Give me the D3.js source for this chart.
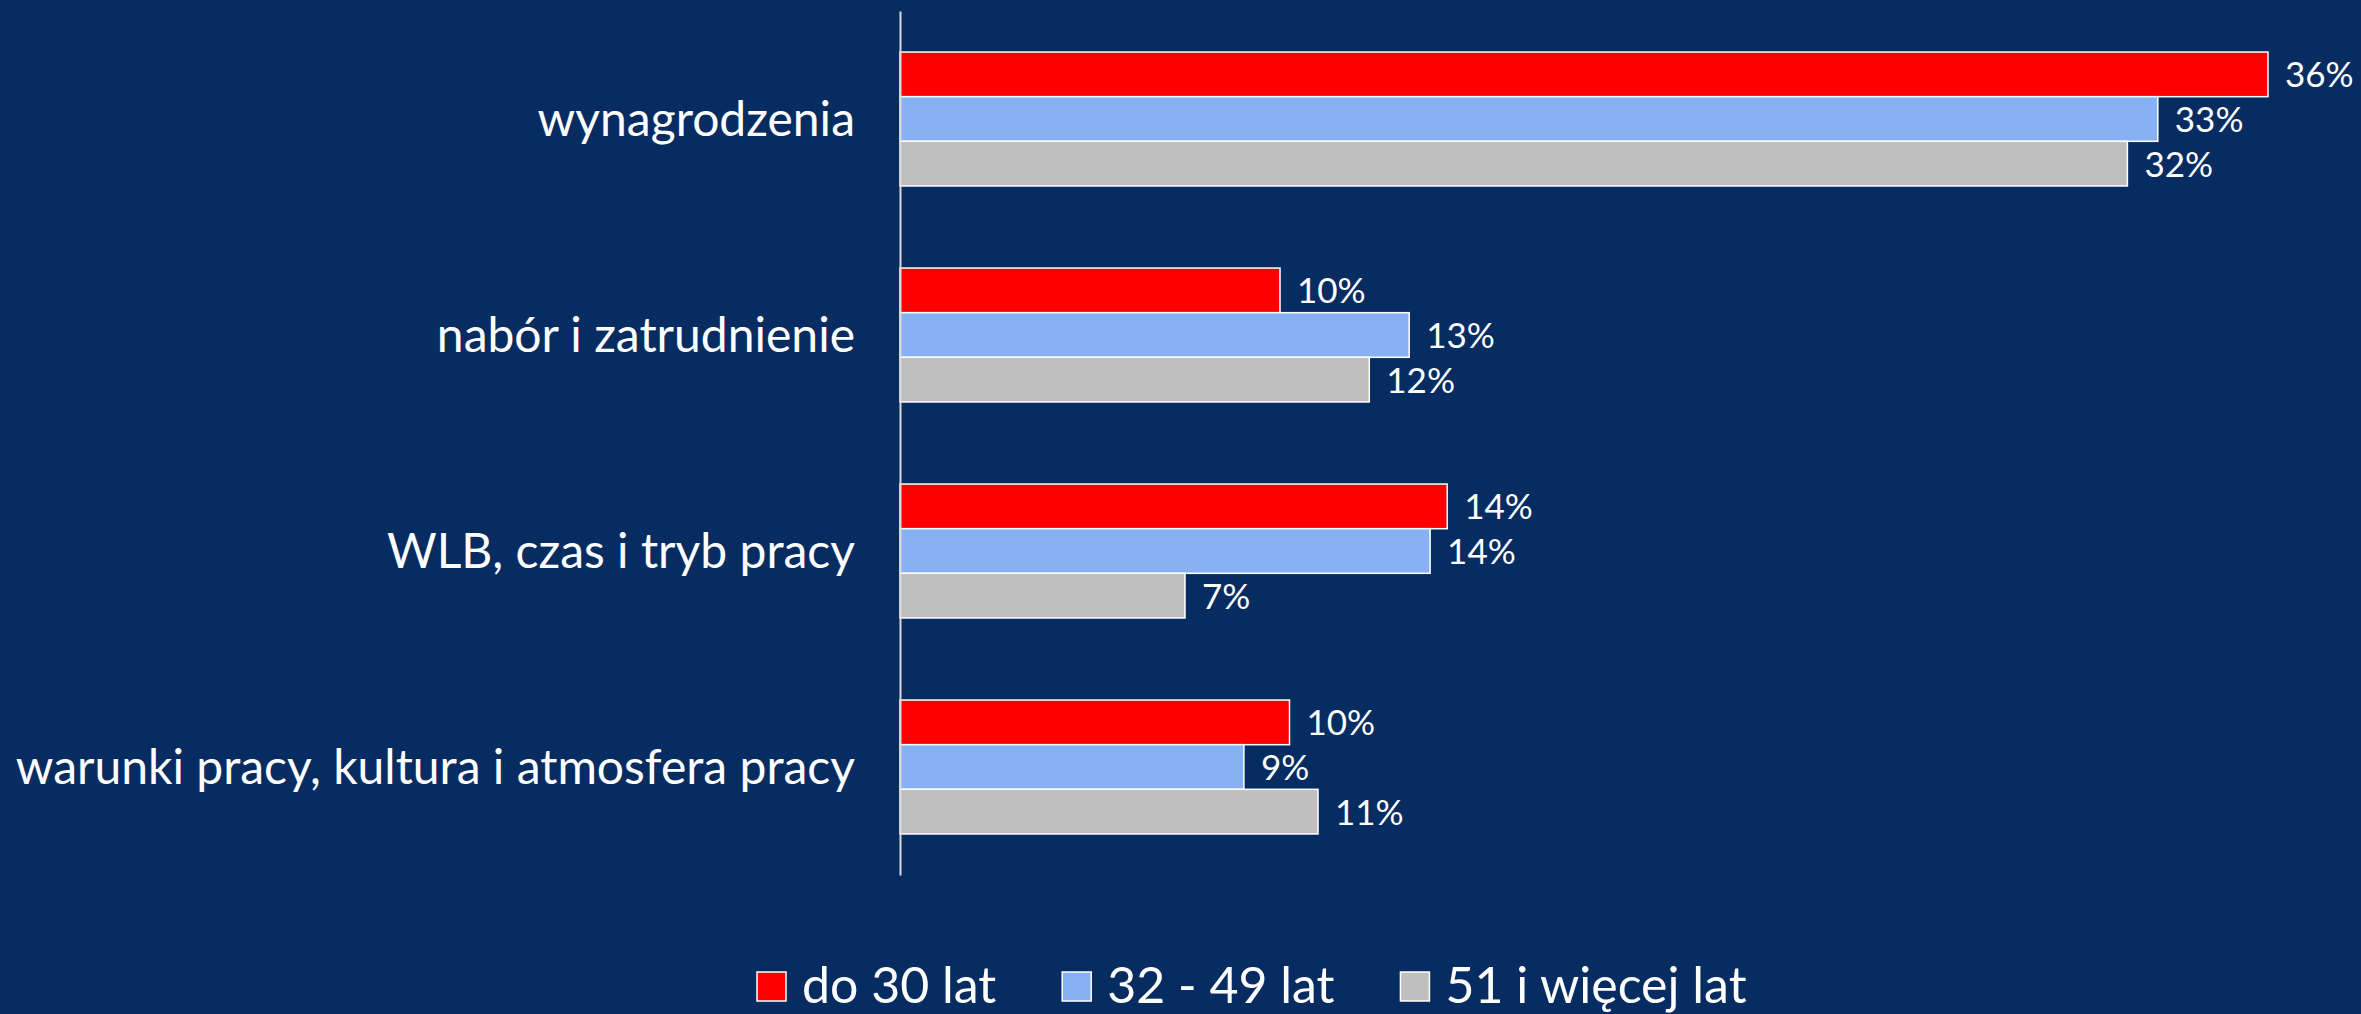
<!DOCTYPE html>
<html>
<head>
<meta charset="utf-8">
<script src="https://cdn.jsdelivr.net/npm/d3@7"></script>
<style>
  html, body { margin: 0; padding: 0; background: #072C62; }
  svg { display: block; }
  text { font-family: Lato, "Noto Sans", sans-serif; fill: #ffffff; }
</style>
</head>
<body>
<svg id="chart" width="2361" height="1014"></svg>
<script>
// ---- data ----
const categories = [
  "wynagrodzenia",
  "nabór i zatrudnienie",
  "WLB, czas i tryb pracy",
  "warunki pracy, kultura i atmosfera pracy"
];
const seriesNames = ["do 30 lat", "32 - 49 lat", "51 i więcej lat"];
const seriesColors = ["#FF0000", "#86B1F5", "#BFBFBF"];
const valuesDo30 = [36, 10, 14.4, 10.25];
const values32to49 = [33.1, 13.4, 13.95, 9.05];
const values51plus = [32.3, 12.35, 7.5, 11.0];
const labelsDo30 = ["36%", "10%", "14%", "10%"];
const labels32to49 = ["33%", "13%", "14%", "9%"];
const labels51plus = ["32%", "12%", "7%", "11%"];

const seriesValues = [valuesDo30, values32to49, values51plus];
const seriesLabels = [labelsDo30, labels32to49, labels51plus];

// ---- layout ----
const svg = d3.select("#chart");
svg.append("rect").attr("width", 2361).attr("height", 1014).attr("fill", "#072C62");

const x = d3.scaleLinear().domain([0, 38]).range([900, 2344]);
const y = d3.scaleBand().domain(categories).range([11, 875]).paddingInner(0.38).paddingOuter(0.19);
const yInner = d3.scaleBand().domain(d3.range(seriesNames.length)).range([0, y.bandwidth()]);

const rows = [];
categories.forEach((c, ci) => {
  seriesNames.forEach((s, si) => {
    rows.push({ cat: c, si: si, v: seriesValues[si][ci], label: seriesLabels[si][ci] });
  });
});

const g = svg.append("g");
g.selectAll("rect.bar").data(rows).join("rect")
  .attr("class", "bar")
  .attr("x", x(0))
  .attr("y", d => y(d.cat) + yInner(d.si))
  .attr("width", d => x(d.v) - x(0))
  .attr("height", yInner.bandwidth())
  .attr("fill", d => seriesColors[d.si])
  .attr("stroke", "#ffffff")
  .attr("stroke-width", 1.5);

g.selectAll("text.val").data(rows).join("text")
  .attr("class", "val")
  .attr("x", d => x(d.v) + 17)
  .attr("y", d => y(d.cat) + yInner(d.si) + yInner.bandwidth() / 2 + 13)
  .attr("font-size", 35)
  .text(d => d.label);

// axis line with category labels
const axis = d3.axisLeft(y).tickSize(0).tickPadding(45);
const ag = svg.append("g").attr("transform", `translate(${x(0)},0)`).call(axis);
ag.select(".domain").attr("stroke", "#D9D9D9").attr("stroke-width", 2);
ag.selectAll(".tick text")
  .attr("font-size", 48)
  .attr("fill", "#ffffff")
  .attr("font-family", "Lato, 'Noto Sans', sans-serif")
  .attr("dy", null)
  .attr("y", 17);

// legend
const lg = svg.append("g");
let lx = 757;
seriesNames.forEach((s, i) => {
  lg.append("rect").attr("x", lx).attr("y", 972).attr("width", 29).attr("height", 29)
    .attr("fill", seriesColors[i]).attr("stroke", "#ffffff").attr("stroke-width", 1.5);
  const t = lg.append("text").attr("x", lx + 45).attr("y", 1003).attr("font-size", 50).text(s);
  const w = t.node().getComputedTextLength();
  lx = lx + 45 + w + 66;
});
</script>
</body>
</html>
